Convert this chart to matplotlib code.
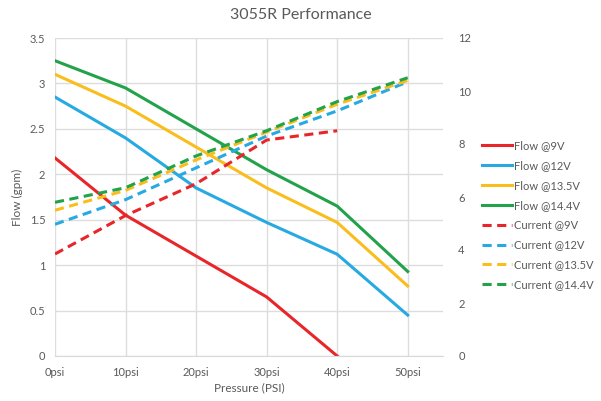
import matplotlib.pyplot as plt

plt.rcParams['font.family'] = ['Lato', 'DejaVu Sans']

# pressure points (psi)
pressure = [0, 10, 20, 30, 40, 50]
tick_labels = ['0psi', '10psi', '20psi', '30psi', '40psi', '50psi']

# flow (gpm), left axis
flow_9v = [2.18, 1.55, 1.10, 0.65, 0.0]
flow_12v = [2.85, 2.40, 1.85, 1.47, 1.12, 0.45]
flow_13v5 = [3.10, 2.75, 2.30, 1.85, 1.47, 0.77]
flow_14v4 = [3.25, 2.95, 2.50, 2.05, 1.65, 0.93]

# current (A), right axis
cur_9v = [3.85, 5.30, 6.50, 8.15, 8.50]
cur_12v = [4.97, 5.90, 7.10, 8.30, 9.25, 10.35]
cur_13v5 = [5.50, 6.25, 7.40, 8.45, 9.50, 10.40]
cur_14v4 = [5.80, 6.35, 7.55, 8.50, 9.60, 10.50]

red = '#E8262A'
blue = '#27A9E1'
yellow = '#F9BE1D'
green = '#22A24A'
grey = '#595959'

fig = plt.figure(figsize=(6.01, 4.01), dpi=100)
ax = fig.add_axes([55 / 601, 45 / 401, 388 / 601, 318 / 401])
ax2 = ax.twinx()

lw = 2.2
ax.plot(pressure[:5], flow_9v, color=red, lw=lw, label='Flow @9V')
ax.plot(pressure, flow_12v, color=blue, lw=lw, label='Flow @12V')
ax.plot(pressure, flow_13v5, color=yellow, lw=lw, label='Flow @13.5V')
ax.plot(pressure, flow_14v4, color=green, lw=lw, label='Flow @14.4V')

dash = (0, (3, 1.8))
ax2.plot(pressure[:5], cur_9v, color=red, lw=lw, ls=dash, label='Current @9V')
ax2.plot(pressure, cur_12v, color=blue, lw=lw, ls=dash, label='Current @12V')
ax2.plot(pressure, cur_13v5, color=yellow, lw=lw, ls=dash, label='Current @13.5V')
ax2.plot(pressure, cur_14v4, color=green, lw=lw, ls=dash, label='Current @14.4V')

ax.set_xlim(0, 55)
ax.set_ylim(0, 3.5)
ax2.set_ylim(0, 12)
ax.set_xticks(pressure)
ax.set_xticklabels(tick_labels)
ax.set_yticks([0, 0.5, 1, 1.5, 2, 2.5, 3, 3.5])
ax.set_yticklabels(['0', '0.5', '1', '1.5', '2', '2.5', '3', '3.5'])
ax2.set_yticks(range(0, 13, 2))

ax.grid(True, color='#DDDDDD', lw=1)
ax.set_axisbelow(True)
for a in (ax, ax2):
    for s in a.spines.values():
        s.set_visible(False)
    a.tick_params(length=0, labelsize=8, colors=grey)
ax.spines['bottom'].set_visible(True)
ax.spines['bottom'].set_color('#D9D9D9')
ax.tick_params(axis='x', pad=8)
ax.tick_params(axis='y', pad=7)
ax2.tick_params(axis='y', pad=11)

ax.set_xlabel('Pressure (PSI)', fontsize=8.5, color=grey, labelpad=3)
ax.set_ylabel('Flow (gpm)', fontsize=8.5, color=grey, labelpad=5)
fig.text(0.5, 0.962, '3055R Performance', ha='center', va='center', fontsize=11.5, color=grey)

handles = ax.get_lines() + ax2.get_lines()
labels = [h.get_label() for h in handles]
fig.legend(handles, labels, loc='upper left', bbox_to_anchor=(472 / 601, 1 - 130 / 401),
           frameon=False, fontsize=8, labelcolor=grey, handlelength=2.7,
           handletextpad=0.15, labelspacing=0.8)

fig.savefig('out.png', dpi=100)
